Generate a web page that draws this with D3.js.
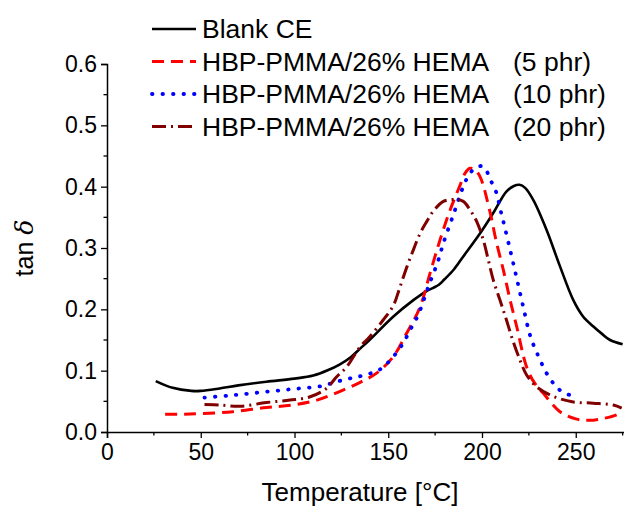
<!DOCTYPE html>
<html><head><meta charset="utf-8">
<script src="https://cdn.jsdelivr.net/npm/d3@7"></script>
<style>body{margin:0;background:#fff;} svg{display:block;font-family:Arial,"Liberation Sans",sans-serif;}</style>
</head><body>
<svg id="c" width="624" height="506"></svg>
<script>
const seriesNames = ["Blank CE", "HBP-PMMA/26% HEMA", "HBP-PMMA/26% HEMA", "HBP-PMMA/26% HEMA"];
const seriesSuffix = ["", "(5 phr)", "(10 phr)", "(20 phr)"];
const xTicks = [0, 50, 100, 150, 200, 250];
const yTicks = [0.0, 0.1, 0.2, 0.3, 0.4, 0.5, 0.6];

const blankCE = [[26,0.083],[35,0.072],[45,0.067],[50,0.067],[60,0.071],[70,0.076],[85,0.082],[100,0.087],[110,0.092],[118,0.101],[124,0.110],[130,0.122],[135,0.136],[140,0.150],[152.6,0.188],[163.4,0.215],[170,0.229],[174,0.235],[177,0.240],[180,0.249],[185,0.265],[190,0.286],[199,0.324],[206,0.357],[213,0.392],[217,0.401],[220,0.403],[223,0.398],[227.4,0.378],[234.5,0.329],[241.6,0.270],[248.7,0.215],[254,0.188],[259.4,0.172],[264,0.160],[268.3,0.150],[275,0.143]];
const phr5 = [[31,0.029],[40,0.029],[50,0.030],[67,0.033],[85,0.040],[99,0.044],[112,0.052],[124,0.066],[135,0.081],[143.8,0.096],[152.7,0.123],[159.8,0.161],[167,0.204],[172.3,0.259],[177.6,0.313],[183,0.362],[188,0.400],[191,0.422],[193.6,0.430],[196,0.428],[199,0.416],[204,0.362],[207.8,0.308],[211.4,0.264],[215,0.215],[218.5,0.172],[223.8,0.106],[228,0.080],[232.7,0.063],[241.6,0.033],[250.5,0.021],[257,0.019],[263,0.021],[271.8,0.028],[275,0.034]];
const phr10 = [[52,0.056],[67,0.060],[83,0.065],[99,0.070],[114.5,0.075],[122.5,0.082],[130.5,0.088],[137.6,0.093],[145.6,0.102],[152.7,0.123],[158,0.145],[161.6,0.166],[166,0.191],[171.4,0.237],[176.7,0.280],[179.4,0.308],[184.7,0.354],[190,0.400],[193.6,0.422],[197.5,0.432],[200.7,0.433],[205,0.408],[207.8,0.389],[209.6,0.365],[211.4,0.343],[215,0.297],[218.5,0.251],[222,0.204],[225.6,0.158],[229,0.131],[236,0.088],[242.5,0.066],[250.5,0.057]];
const phr20 = [[52,0.045],[60,0.044],[71,0.042],[85,0.048],[97.6,0.052],[108,0.057],[117,0.071],[122.5,0.090],[127.8,0.106],[135,0.139],[140,0.155],[147.4,0.183],[152.7,0.206],[156,0.234],[159.8,0.268],[163.4,0.297],[167,0.324],[170.5,0.343],[174,0.360],[179.4,0.376],[184.7,0.379],[190,0.376],[193.6,0.362],[197.2,0.343],[200.7,0.313],[203.4,0.280],[206,0.248],[209.6,0.215],[213,0.183],[216.7,0.147],[220.3,0.117],[223.8,0.093],[229,0.074],[238,0.058],[248.7,0.049],[259.4,0.047],[270,0.044],[274.5,0.039]];

const seriesData = [blankCE, phr5, phr10, phr20];
const colors = ["#000000", "#ff0000", "#0000ff", "#800000"];
const dashes = [null, "12 7", "0.5 10", "14 5 2 5"];
const widths = [2.6, 3, 3.8, 3];

const svg = d3.select("#c");
const x = d3.scaleLinear().domain([0, 276]).range([107, 107 + 276 * 1.875]);
const y = d3.scaleLinear().domain([0, 0.6]).range([432, 64]);

// axes
const xAxis = d3.axisBottom(x).tickValues(xTicks).tickFormat(d3.format("d")).tickSizeOuter(0).tickSize(6).tickPadding(6);
const gx = svg.append("g").attr("transform", "translate(0,432)").call(xAxis);
gx.selectAll("text").attr("font-size", 23).attr("fill", "#000").attr("font-family", "Arial, 'Liberation Sans', sans-serif");
gx.select(".domain").attr("stroke", "#000").attr("stroke-width", 1.5);
gx.selectAll(".tick line").attr("stroke", "#000").attr("stroke-width", 1.3);
const xMinor = d3.range(25, 276, 50);
svg.append("g").selectAll("line").data(xMinor).join("line")
  .attr("x1", d => x(d)).attr("x2", d => x(d)).attr("y1", 432).attr("y2", 435.5)
  .attr("stroke", "#000").attr("stroke-width", 1.3);

const yAxis = d3.axisLeft(y).tickValues(yTicks).tickFormat(d3.format(".1f")).tickSizeOuter(0).tickSize(6).tickPadding(4);
const gy = svg.append("g").attr("transform", "translate(107,0)").call(yAxis);
gy.selectAll("text").attr("font-size", 23).attr("fill", "#000").attr("font-family", "Arial, 'Liberation Sans', sans-serif");
gy.select(".domain").attr("stroke", "#000").attr("stroke-width", 1.5);
gy.selectAll(".tick line").attr("stroke", "#000").attr("stroke-width", 1.3);
const yMinor = [0.05, 0.15, 0.25, 0.35, 0.45, 0.55];
svg.append("g").selectAll("line").data(yMinor).join("line")
  .attr("x1", 103.5).attr("x2", 107).attr("y1", d => y(d)).attr("y2", d => y(d))
  .attr("stroke", "#000").attr("stroke-width", 1.3);

// titles
svg.append("text").attr("x", 360).attr("y", 501).attr("text-anchor", "middle")
  .attr("font-size", 26).text("Temperature [°C]");
const yt = svg.append("text").attr("transform", "translate(33,248) rotate(-90)").attr("text-anchor", "middle").attr("font-size", 25);
yt.append("tspan").text("tan ");
yt.append("tspan").attr("font-style", "italic").attr("font-family", "'DejaVu Serif', 'Liberation Serif', serif").text("δ");

// curves
const line = d3.line().x(d => x(d[0])).y(d => y(d[1])).curve(d3.curveCatmullRom.alpha(0.5));
svg.append("g").selectAll("path").data(seriesData).join("path")
  .attr("d", d => line(d))
  .attr("fill", "none")
  .attr("stroke", (d, i) => colors[i])
  .attr("stroke-width", (d, i) => widths[i])
  .attr("stroke-dasharray", (d, i) => dashes[i])
  .attr("stroke-linecap", (d, i) => i === 2 ? "round" : "butt")
  .attr("stroke-linejoin", "round");

// legend
const legY = [29, 61.5, 94, 126.5];
const leg = svg.append("g");
seriesNames.forEach((name, i) => {
  leg.append("line").attr("x1", 152).attr("x2", 196).attr("y1", legY[i]).attr("y2", legY[i])
    .attr("stroke", colors[i]).attr("stroke-width", widths[i])
    .attr("stroke-dasharray", dashes[i])
    .attr("stroke-linecap", i === 2 ? "round" : "butt");
  leg.append("text").attr("x", 202).attr("y", legY[i] + 9).attr("font-size", 26.5).text(name);
  if (seriesSuffix[i]) leg.append("text").attr("x", 513).attr("y", legY[i] + 9).attr("font-size", 26.5).text(seriesSuffix[i]);
});
</script>
</body></html>
